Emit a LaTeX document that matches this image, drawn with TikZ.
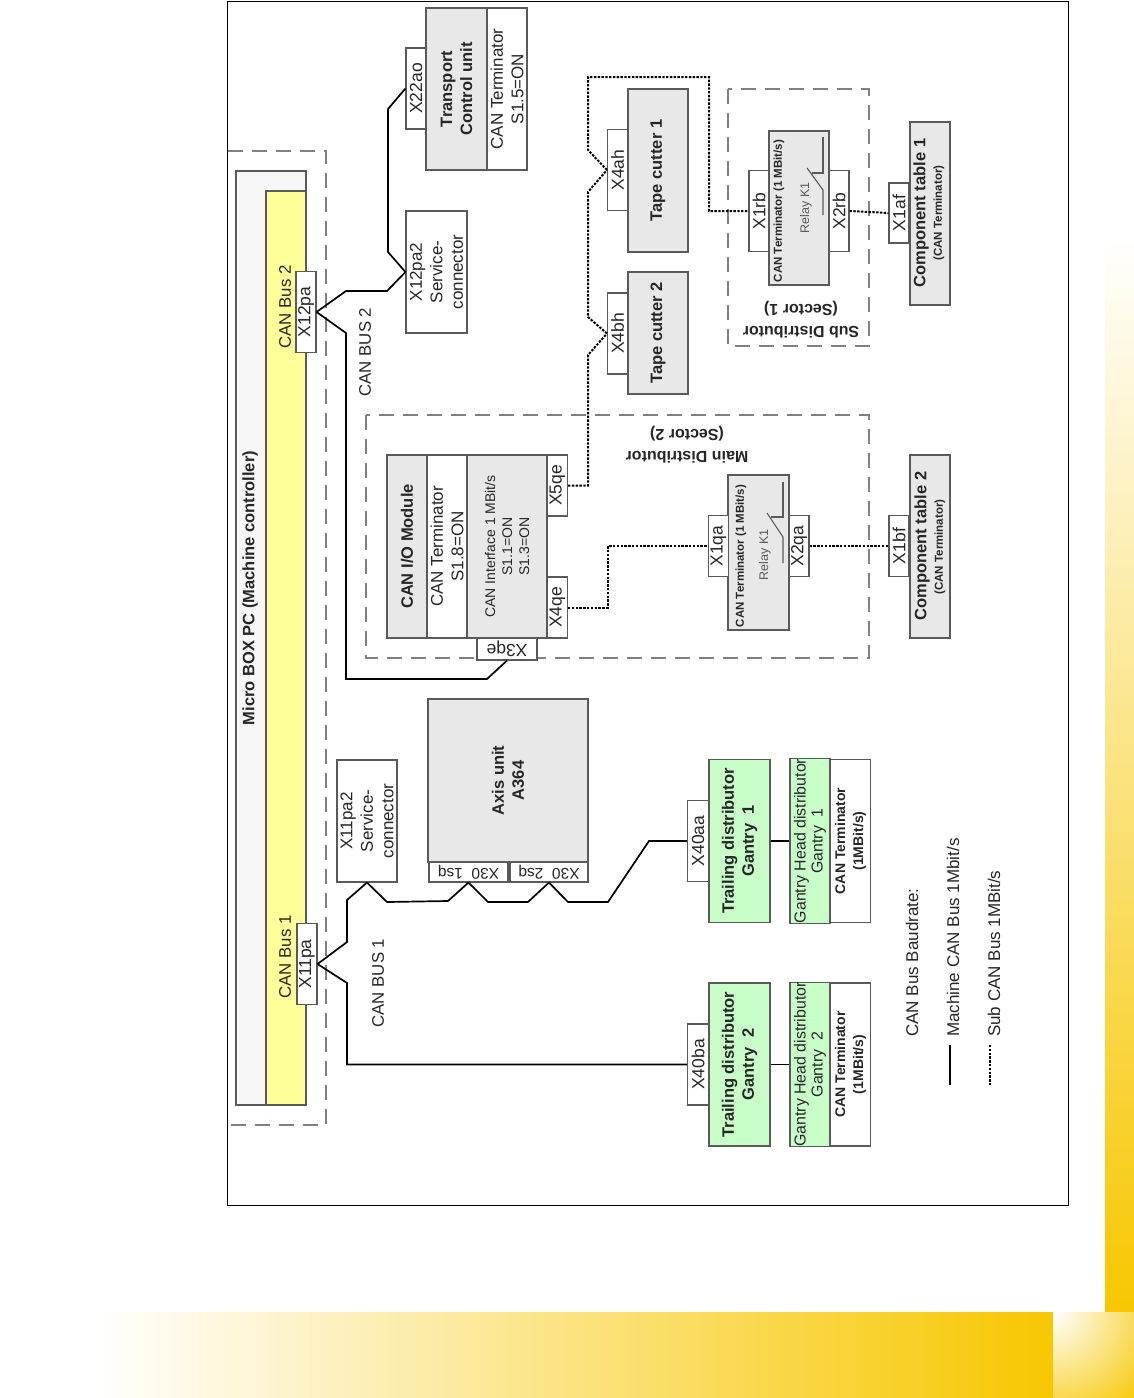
\documentclass[tikz,border=0pt]{standalone}
\usepackage{fontspec}
\usepackage{xcolor}
\setmainfont{Liberation Sans}

\definecolor{gold}{HTML}{F7C700}
\definecolor{boxline}{HTML}{5A5A5A}
\definecolor{boxgray}{HTML}{E8E8E8}
\definecolor{boxgreen}{HTML}{C8FFC8}
\definecolor{busyellow}{HTML}{FFFF99}
\definecolor{pcgray}{HTML}{F7F7F7}
\definecolor{inktext}{HTML}{262626}

\tikzset{
    partbase/.style={draw=boxline, line width=1.1pt, inner sep=0pt, align=center, text=inktext,
        font=\fontsize{17}{20.5}\selectfont},
    part/.style={partbase, rotate=90},
    partflip/.style={partbase, rotate=180, fill=white, font=\fontsize{15.5}{18}\selectfont},
    partgray/.style={part, fill=boxgray},
    partgreen/.style={part, fill=boxgreen},
    partwhite/.style={part, fill=white},
    plug/.style={partwhite, font=\fontsize{17.5}{20}\selectfont, minimum width=81pt, minimum height=20pt},
    boldlabel/.style={font=\fontsize{16.5}{20}\selectfont\bfseries},
    tinylabel/.style={font=\fontsize{11.5}{14}\selectfont\bfseries},
    midlabel/.style={font=\fontsize{14}{17}\selectfont},
    note/.style={rotate=90, inner sep=0pt, text=inktext, font=\fontsize{16.8}{20}\selectfont},
    legendnote/.style={note, anchor=west, font=\fontsize{17}{20}\selectfont},
    sector/.style={draw=gray, line width=1.1pt, dash pattern=on 15pt off 9pt},
    titleflip/.style={rotate=180, inner sep=0pt, align=center, text=inktext, font=\fontsize{16}{22}\selectfont\bfseries},
    canbus/.style={line width=1.7pt, black},
    subbus/.style={line width=2pt, black, dash pattern=on 2.4pt off 1.4pt},
    relaysym/.style={line width=1.1pt, boxline},
}

\begin{document}
\begin{tikzpicture}[x=1pt, y=-1pt]
    \useasboundingbox (0,0) rectangle (1134,1398);

    % Page decoration
    \shade[top color=white, bottom color=gold] (1105,232) rectangle (1134,1312);
    \shade[left color=white, right color=gold] (94,1312) rectangle (1053,1398);
    \begin{scope}
        \clip (1053,1312) rectangle (1134,1398);
        \shade[inner color=white, outer color=gold] (1053,1312) circle (125);
    \end{scope}

    % Outer frame
    \draw[line width=1pt] (227,1) rectangle (1068,1205);

    % Micro BOX PC
    \draw[sector] (228,151) -- (326,151) -- (326,1125) -- (228,1125);
    \node[part, fill=pcgray, minimum width=934pt, minimum height=70pt] (microbox) at (271,638) {};
    \node[part, fill=busyellow, minimum width=914pt, minimum height=40pt] (busbar) at (286,648) {};
    \node[note, font=\fontsize{16.5}{19}\selectfont\bfseries] (microtitle) at (250,588) {Micro BOX PC (Machine controller)};
    \node[note] (busname2) at (285,307) {CAN Bus 2};
    \node[note] (busname1) at (285,957) {CAN Bus 1};
    \node[plug] (X12pa) at (306,312) {X12pa};
    \node[plug] (X11pa) at (307,964) {X11pa};

    % Bus labels
    \node[note] (buslabel2) at (365,352) {CAN BUS 2};
    \node[note] (buslabel1) at (378,983) {CAN BUS 1};

    % Service connectors
    \node[partwhite, minimum width=122pt, minimum height=61pt] (X12pa2) at (436.5,272) {X12pa2\\Service-\\connector};
    \node[partwhite, minimum width=122pt, minimum height=60pt] (X11pa2) at (367,821) {X11pa2\\Service-\\connector};

    % Transport control unit
    \node[partgray, boldlabel, minimum width=162pt, minimum height=61pt] (transport) at (456.5,89) {Transport\\Control unit};
    \node[partwhite, minimum width=162pt, minimum height=40pt] (transterm) at (507,89) {CAN Terminator\\S1.5=ON};
    \node[plug] (X22ao) at (416,88.5) {X22ao};

    % Tape cutters
    \node[partgray, boldlabel, minimum width=163pt, minimum height=60pt] (cutter1) at (658,170.5) {Tape cutter 1};
    \node[partgray, boldlabel, minimum width=122pt, minimum height=60pt] (cutter2) at (658,333) {Tape cutter 2};
    \node[plug] (X4ah) at (617.5,170) {X4ah};
    \node[plug] (X4bh) at (617.5,333.5) {X4bh};

    % Sub distributor
    \draw[sector] (728,89) rectangle (869,346);
    \node[titleflip] (subtitle) at (801,320) {Sub Distributor\\(Sector 1)};
    \node[partgray, minimum width=154pt, minimum height=60pt] (relay1) at (799,208) {};
    \node[note, tinylabel] (relayterm1) at (779,211) {CAN Terminator (1 MBit/s)};
    \node[note, text=boxline, font=\fontsize{12.5}{15}\selectfont] (relayname1) at (806,208) {Relay K1};
    \draw[relaysym] (823,137) -- (823,173) -- (812,173);
    \draw[relaysym] (807,168) -- (823,190) -- (823,215);
    \node[plug] (X1rb) at (759,211) {X1rb};
    \node[plug] (X2rb) at (839,211) {X2rb};

    % Component table 1
    \node[partgray, minimum width=183pt, minimum height=40pt] (table1) at (930,213.5) {};
    \node[note, font=\fontsize{16.5}{19}\selectfont\bfseries] (tablename1) at (921,213) {Component table 1};
    \node[note, tinylabel] (tableterm1) at (939,213) {(CAN Terminator)};
    \node[plug, minimum width=60pt] (X1af) at (899,213) {X1af};

    % Main distributor
    \draw[sector] (366,415) rectangle (869,658);
    \node[titleflip] (maintitle) at (687,445) {Main Distributor\\(Sector 2)};

    % CAN I/O module
    \node[partgray, boldlabel, minimum width=183pt, minimum height=40pt] (iomodule) at (407,546.5) {CAN I/O Module};
    \node[partwhite, minimum width=183pt, minimum height=40pt] (ioterm) at (447,546.5) {CAN Terminator\\S1.8=ON};
    \node[partgray, midlabel, minimum width=183pt, minimum height=80pt] (iocan) at (507,546.5) {CAN Interface 1 MBit/s\\S1.1=ON\\S1.3=ON};
    \node[plug, minimum width=61pt] (X5qe) at (557.5,485.5) {X5qe};
    \node[plug, minimum width=61pt] (X4qe) at (557.5,607.5) {X4qe};
    \node[partflip, font=\fontsize{17.5}{20}\selectfont, minimum width=60pt, minimum height=22pt] (X3qe) at (507,649) {X3qe};

    % Relay of the main distributor
    \node[partgray, minimum width=155pt, minimum height=61pt] (relay2) at (758.5,552.5) {};
    \node[note, tinylabel] (relayterm2) at (741,556) {CAN Terminator (1 MBit/s)};
    \node[note, text=boxline, font=\fontsize{12.5}{15}\selectfont] (relayname2) at (765,555) {Relay K1};
    \draw[relaysym] (783,482) -- (783,517) -- (771,517);
    \draw[relaysym] (767,513) -- (783,537) -- (783,563);
    \node[plug, minimum width=61pt] (X1qa) at (718.5,546) {X1qa};
    \node[plug, minimum width=61pt] (X2qa) at (799,546) {X2qa};

    % Component table 2
    \node[partgray, minimum width=183pt, minimum height=40pt] (table2) at (930,546.5) {};
    \node[note, font=\fontsize{16.5}{19}\selectfont\bfseries] (tablename2) at (922,546) {Component table 2};
    \node[note, tinylabel] (tableterm2) at (940,547) {(CAN Terminator)};
    \node[plug, minimum width=61pt] (X1bf) at (899,546) {X1bf};

    % Axis unit
    \node[partgray, boldlabel, minimum width=163pt, minimum height=160pt] (axis) at (508,780.5) {Axis unit\\A364};
    \node[partflip, minimum width=79pt, minimum height=20pt] (X301sq) at (468.5,872) {X30\ \ 1sq};
    \node[partflip, minimum width=78pt, minimum height=20pt] (X302sq) at (549,872) {X30\ \ 2sq};

    % Gantry distributors
    \foreach \n/\plugname/\y in {1/X40aa/841,2/X40ba/1064.5} {
        \node[partgreen, boldlabel, minimum width=163pt, minimum height=61pt] (trail\n) at (739.5,\y) {Trailing distributor\\Gantry\ \ \n};
        \node[plug, minimum height=21pt] (\plugname) at (698,\y) {\plugname};
        \node[partgreen, font=\fontsize{15.9}{17}\selectfont, minimum width=163pt, minimum height=40pt] (head\n) at (810,\y) {Gantry Head distributor\\Gantry\ \ \n};
        \node[partwhite, font=\fontsize{14}{18}\selectfont\bfseries, minimum width=163pt, minimum height=40pt] (term\n) at (850.5,\y) {CAN Terminator\\(1MBit/s)};
        \draw[canbus] (trail\n.south) -- (head\n.north);
    }

    % CAN bus 2
    \draw[canbus] (X12pa.south) -- (346,291) -- (387,291) -- (X12pa2.north);
    \draw[canbus] (X12pa2.north) -- (388,252) -- (388,109) -- (X22ao.north);
    \draw[canbus] (X12pa.south) -- (346,333) -- (346,679) -- (487,679) -- (X3qe.north);

    % CAN bus 1
    \draw[canbus] (X11pa.south) -- (347,942) -- (347,900) -- (X11pa2.west);
    \draw[canbus] (X11pa2.west) -- (387,902) -- (448,901) -- (X301sq.north);
    \draw[canbus] (X301sq.north) -- (488,902) -- (528,902) -- (X302sq.north);
    \draw[canbus] (X302sq.north) -- (568,902) -- (608,902) -- (649,841) -- (X40aa.north);
    \draw[canbus] (X11pa.south) -- (347,983) -- (347,1064.5) -- (X40ba.north);

    % Sub CAN bus
    \draw[subbus] (X5qe.south) -- (588,485.5) -- (588,355) -- (X4bh.north);
    \draw[subbus] (X4bh.north) -- (588,317) -- (588,192) -- (X4ah.north);
    \draw[subbus] (X4ah.north) -- (588,150) -- (588,77) -- (709,77) -- (709,211) -- (X1rb.north);
    \draw[subbus] (X2rb.south) -- (X1af.north);
    \draw[subbus] (X4qe.south) -- (608,607.5) -- (608,546) -- (X1qa.north);
    \draw[subbus] (X2qa.south) -- (X1bf.north);

    % Legend
    \node[legendnote] (legendtitle) at (912,1037) {CAN Bus Baudrate:};
    \node[legendnote] (legendmain) at (953,1037) {Machine CAN Bus 1Mbit/s};
    \node[legendnote] (legendsub) at (994,1037) {Sub CAN Bus 1MBit/s};
    \coordinate (mainfrom) at (950,1045);
    \coordinate (mainto) at (950,1085);
    \coordinate (subfrom) at (990,1045);
    \coordinate (subto) at (990,1085);
    \draw[canbus] (mainfrom) -- (mainto);
    \draw[subbus, line width=1.2pt] (subfrom) -- (subto);
\end{tikzpicture}
\end{document}
